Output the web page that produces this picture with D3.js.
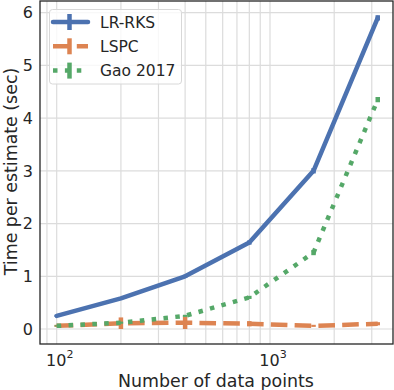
<html>
<head>
<script src="https://d3js.org/d3.v7.min.js"></script>
<style>
  body { margin: 0; background: #fff; }
  text { font-family: "DejaVu Sans", sans-serif; fill: #262626; }
</style>
</head>
<body>
<svg width="394" height="390"></svg>
<script>
// data
var nPoints = [100, 200, 400, 800, 1600, 3200];
var lrRks   = [0.25, 0.58, 1.0, 1.64, 3.0, 5.9];
var lspc    = [0.06, 0.11, 0.12, 0.10, 0.06, 0.10];
var gao     = [0.06, 0.12, 0.25, 0.60, 1.45, 4.35];
var lrRksErr = [0.02, 0.02, 0.03, 0.04, 0.05, 0.05];
var lspcErr  = [0.02, 0.11, 0.12, 0.05, 0.02, 0.03];
var gaoErr   = [0.01, 0.02, 0.02, 0.03, 0.05, 0.05];
var yTicks = [0, 1, 2, 3, 4, 5, 6];
var xMajor = [100, 1000];
var xMinor = [90, 200, 300, 400, 500, 600, 700, 800, 900, 2000, 3000];

var series = [
  {name: "LR-RKS", values: lrRks, err: lrRksErr, color: "#4C72B0", dash: null},
  {name: "LSPC", values: lspc, err: lspcErr, color: "#DD8452", dash: "16.6,7.2"},
  {name: "Gao 2017", values: gao, err: gaoErr, color: "#55A868", dash: "4.5,7.4"}
];

var svg = d3.select("svg");
var pLeft = 40, pRight = 393, pTop = 1, pBottom = 344;

var x = d3.scaleLog().domain([83.5, 3773]).range([pLeft, pRight]);
var y = d3.scaleLinear().domain([-0.284, 6.22]).range([pBottom, pTop]);

// grid
svg.append("g").selectAll("line").data(xMajor.concat(xMinor)).enter().append("line")
  .attr("x1", function (d) { return x(d); }).attr("x2", function (d) { return x(d); })
  .attr("y1", pTop).attr("y2", pBottom)
  .attr("stroke", "#dcdcdc").attr("stroke-width", 1.2);
svg.append("g").selectAll("line").data(yTicks).enter().append("line")
  .attr("x1", pLeft).attr("x2", pRight)
  .attr("y1", function (d) { return y(d); }).attr("y2", function (d) { return y(d); })
  .attr("stroke", "#dcdcdc").attr("stroke-width", 1.2);

// lines
var line = d3.line()
  .x(function (d) { return x(d[0]); })
  .y(function (d) { return y(d[1]); });

series.forEach(function (s) {
  var g = svg.append("g");
  g.selectAll("line").data(nPoints).enter().append("line")
    .attr("x1", function (d) { return x(d); }).attr("x2", function (d) { return x(d); })
    .attr("y1", function (d, i) { return y(s.values[i] - s.err[i]); })
    .attr("y2", function (d, i) { return y(s.values[i] + s.err[i]); })
    .attr("stroke", s.color).attr("stroke-width", 4.5);
  g.append("path")
    .attr("d", line(nPoints.map(function (d, i) { return [d, s.values[i]]; })))
    .attr("fill", "none")
    .attr("stroke", s.color)
    .attr("stroke-width", 4.5)
    .attr("stroke-linecap", s.dash ? "butt" : "round")
    .attr("stroke-linejoin", "round")
    .attr("stroke-dasharray", s.dash);
});

// frame
svg.append("rect")
  .attr("x", pLeft).attr("y", pTop).attr("width", pRight - pLeft).attr("height", pBottom - pTop)
  .attr("fill", "none").attr("stroke", "#262626").attr("stroke-width", 1.3);

// y tick labels
svg.append("g").selectAll("text").data(yTicks).enter().append("text")
  .attr("x", 33).attr("y", function (d) { return y(d); })
  .attr("dy", "0.36em")
  .attr("text-anchor", "end")
  .attr("font-size", 16)
  .text(function (d) { return d; });

// x tick labels
var xl = svg.append("g").selectAll("text").data(xMajor).enter().append("text")
  .attr("x", function (d) { return x(d) + 3; }).attr("y", 365.5)
  .attr("text-anchor", "middle")
  .attr("font-size", 16);
xl.append("tspan").text("10");
xl.append("tspan").attr("dy", -8).attr("font-size", 11)
  .text(function (d) { return Math.round(Math.log10(d)); });

// axis titles
svg.append("text")
  .attr("x", 216).attr("y", 386.5)
  .attr("text-anchor", "middle").attr("font-size", 17.4)
  .text("Number of data points");
svg.append("text")
  .attr("transform", "translate(17,171.5) rotate(-90)")
  .attr("text-anchor", "middle").attr("font-size", 17.4)
  .text("Time per estimate (sec)");

// legend
var lg = svg.append("g");
lg.append("rect")
  .attr("x", 49.5).attr("y", 9.5).attr("width", 132).attr("height", 74.5)
  .attr("rx", 3).attr("fill", "#fff").attr("fill-opacity", 0.8)
  .attr("stroke", "#d8d8d8").attr("stroke-width", 1);
var item = lg.selectAll("g.item").data(series).enter().append("g")
  .attr("transform", function (d, i) { return "translate(0," + (22 + i * 24.3) + ")"; });
item.append("line")
  .attr("x1", 53).attr("x2", 88).attr("y1", 0).attr("y2", 0)
  .attr("stroke", function (d) { return d.color; }).attr("stroke-width", 4.5)
  .attr("stroke-linecap", function (d) { return d.dash ? "butt" : "round"; })
  .attr("stroke-dasharray", function (d) { return d.dash; });
item.append("line")
  .attr("x1", 69.5).attr("x2", 69.5).attr("y1", -8).attr("y2", 8)
  .attr("stroke", function (d) { return d.color; }).attr("stroke-width", 4.5);
item.append("text")
  .attr("x", 100).attr("y", 0).attr("dy", "0.36em")
  .attr("font-size", 15.5)
  .text(function (d) { return d.name; });
</script>
</body>
</html>
